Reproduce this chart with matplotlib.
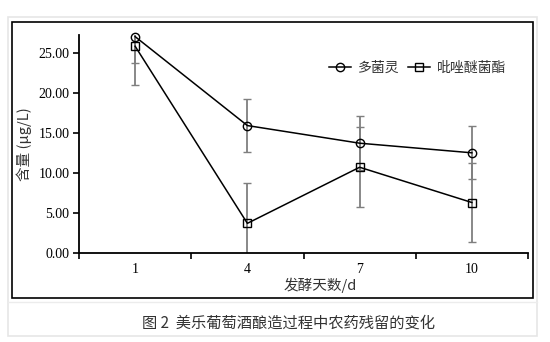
import matplotlib
matplotlib.use("Agg")
import matplotlib.pyplot as plt
from matplotlib.patches import Rectangle
import numpy as np

days = ["1", "4", "7", "10"]
carbendazim = [27.0, 15.9, 13.7, 12.5]
carbendazim_err = [3.3, 3.35, 3.4, 3.3]
pyraclostrobin = [25.8, 3.7, 10.7, 6.3]
pyraclostrobin_err = [4.9, 5.0, 5.0, 4.9]
yticks = [0, 5, 10, 15, 20, 25]
series_names = ["多菌灵", "吡唑醚菌酯"]
caption = "图 2  美乐葡萄酒酿造过程中农药残留的变化"
xlabel = "发酵天数/d"
ylabel = "含量 (μg/L)"

plt.rcParams['font.family'] = ['Liberation Serif', 'Noto Sans CJK SC', 'DejaVu Sans']
W, H = 550, 342
fig = plt.figure(figsize=(W/100, H/100), dpi=100)

def fx(px): return px / W
def fy(py): return 1 - py / H

# page frame
fig.patches.append(Rectangle((fx(8), fy(336)), fx(537) - fx(8), fy(17) - fy(336),
                             transform=fig.transFigure, fill=False, ec='#e6e6e6', lw=1.2))
fig.patches.append(Rectangle((fx(12), fy(298)), fx(533) - fx(12), fy(22) - fy(298),
                             transform=fig.transFigure, fill=False, ec='black', lw=1.2))
fig.lines.append(plt.Line2D([fx(8), fx(537)], [fy(302), fy(302)], transform=fig.transFigure,
                            color='#ececec', lw=1.0))

ax = fig.add_axes([fx(79), fy(253), fx(528) - fx(79), fy(35) - fy(253)])
x = np.arange(len(days))

ax.errorbar(x, carbendazim, yerr=carbendazim_err, fmt='none', ecolor='#7f7f7f',
            elinewidth=1.3, capsize=3, capthick=1.0, zorder=2, clip_on=True)
ax.errorbar(x, pyraclostrobin, yerr=pyraclostrobin_err, fmt='none', ecolor='#7f7f7f',
            elinewidth=1.3, capsize=3, capthick=1.0, zorder=2, clip_on=True)
ax.plot(x, carbendazim, '-o', color='black', mfc='none', mec='black', ms=6, mew=1.0,
        lw=1.1, label=series_names[0], zorder=3, clip_on=False)
ax.plot(x, pyraclostrobin, '-s', color='black', mfc='none', mec='black', ms=6, mew=1.0,
        lw=1.1, label=series_names[1], zorder=3, clip_on=False)

ax.set_xlim(-0.5, len(days) - 0.5)
ax.set_ylim(0, 27.2)
ax.set_yticks(yticks)
ax.set_yticklabels([f"{v:.2f}" for v in yticks], fontsize=10)
ax.set_xticks(np.arange(-0.5, len(days), 1.0))
ax.set_xticklabels([])
ax.set_xticks(x, minor=True)
ax.set_xticklabels(days, minor=True, fontsize=10)
ax.tick_params(axis='x', which='major', direction='out', length=4, width=1.2)
ax.tick_params(axis='x', which='minor', length=0, pad=7)
ax.tick_params(axis='y', direction='out', length=4, width=1.2, pad=3)
for s in ['top', 'right']:
    ax.spines[s].set_visible(False)
for s in ['left', 'bottom']:
    ax.spines[s].set_linewidth(1.3)

ax.set_ylabel(ylabel, fontsize=10.5, color='#333333', fontweight='light',
              family=['Noto Sans CJK SC', 'DejaVu Sans'])
ax.yaxis.set_label_coords((32 - 79) / 449, 0.5)
fig.text(fx(320), fy(285), xlabel, fontsize=10.5, ha='center', va='center', color='#333333',
         fontweight='light', family=['Noto Sans CJK SC', 'DejaVu Sans'])

leg = ax.legend(loc='upper right', bbox_to_anchor=(0.98, 0.94), ncol=2, frameon=False,
                handlelength=1.6, handletextpad=0.5, columnspacing=0.6,
                prop={'family': ['Noto Sans CJK SC', 'DejaVu Sans'], 'size': 10, 'weight': 'light'})
for t in leg.get_texts():
    t.set_color('#333333')

fig.text(fx(288), fy(323), caption, fontsize=11, ha='center', va='center', color='#333333',
         fontweight='light', family=['Noto Sans CJK SC', 'DejaVu Sans'])

fig.savefig("out.png", dpi=100)
